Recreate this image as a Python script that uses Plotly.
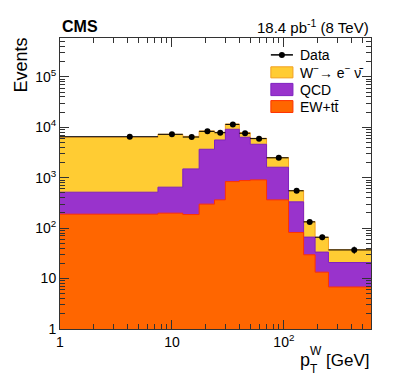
import numpy as np
import plotly.graph_objects as go

# bin edges of W pT [GeV]
edges = [0, 7.5, 12.5, 17.5, 24, 30, 40, 50, 70, 110, 150, 190, 250, 600]
# stacked contributions (events per bin)
ew_ttbar = [189, 198, 186, 299, 363, 837, 877, 904, 363, 82, 29.6, 13.4, 6.8]
qcd = [327, 451, 1308, 3366, 5237, 8293, 5463, 3696, 1251, 250, 36.8, 20.1, 14.0]
w_enu = [5800, 6600, 5100, 4800, 2350, 2470, 1480, 1450, 890, 224, 68.6, 32.5, 16.4]
# data points
data_x = [4.2, 10, 15, 20.75, 27, 35, 45, 60, 90, 130, 170, 220, 425]
data_y = [6500, 7250, 6400, 8300, 7800, 11400, 7600, 5950, 2480, 550, 133, 66, 37]

names = ["W<sup>−</sup>→ e<sup>−</sup> ν̄", "QCD", "EW+tt̄"]
fills = ["#FFCC33", "#9933CC", "#FF6600"]
lines = ["#F2A020", "#7E22C0", "#FF3300"]

x_lo = 1  # lower edge of the x axis (log)

def steps(vals):
    xs = [max(e, x_lo) for e in edges]
    ys = list(vals) + [vals[-1]]
    return xs, ys

lvl_ew = np.array(ew_ttbar)
lvl_qcd = lvl_ew + np.array(qcd)
lvl_w = lvl_qcd + np.array(w_enu)

fig = go.Figure()
for lvl, nm, fc, lc in zip([lvl_w, lvl_qcd, lvl_ew], names, fills, lines):
    xs, ys = steps(lvl)
    fig.add_trace(go.Scatter(x=xs, y=ys, mode="lines", line=dict(shape="hv", color=lc, width=1),
                             fill="tozeroy", fillcolor=fc, name=nm, showlegend=False))

lo = [max(e, x_lo) for e in edges[:-1]]
hi = edges[1:]
fig.add_trace(go.Scatter(
    x=data_x, y=data_y, mode="markers", name="Data", showlegend=False,
    marker=dict(color="black", size=6),
    error_x=dict(type="data", symmetric=False,
                 array=[h - c for h, c in zip(hi, data_x)],
                 arrayminus=[c - l for l, c in zip(lo, data_x)],
                 color="black", thickness=1, width=0),
    error_y=dict(type="data", array=list(np.sqrt(data_y)), color="black", thickness=1, width=0),
))

def minor_vals(lo_exp, hi_exp):
    out = []
    for e in range(lo_exp, hi_exp):
        for m in range(2, 10):
            out.append(m * 10 ** e)
    return out

font = "Liberation Sans, Arial, sans-serif"

# page body has an 8px margin, so the figure is shrunk by that amount
fig.update_layout(
    width=391, height=379,
    margin=dict(l=52, r=28, t=30, b=58),
    paper_bgcolor="white", plot_bgcolor="white",
    font=dict(family=font, size=14, color="black"),
    showlegend=False,
    xaxis=dict(type="log", range=[0, np.log10(600)], showline=True, linecolor="#333", linewidth=1,
               mirror="ticks", ticks="inside", ticklen=9, tickcolor="#333",
               tickvals=[1, 10, 100], ticktext=["1", "10", "10<sup>2</sup>"],
               showgrid=False, zeroline=False,
               minor=dict(tickvals=minor_vals(0, 3), ticks="inside", ticklen=5, tickcolor="#333", showgrid=False)),
    yaxis=dict(type="log", range=[0, 5.77], showline=True, linecolor="#333", linewidth=1,
               mirror="ticks", ticks="inside", ticklen=9, tickcolor="#333",
               tickvals=[1, 10, 100, 1e3, 1e4, 1e5],
               ticktext=["1", "10", "10<sup>2</sup>", "10<sup>3</sup>", "10<sup>4</sup>", "10<sup>5</sup>"],
               showgrid=False, zeroline=False,
               minor=dict(tickvals=minor_vals(0, 6), ticks="inside", ticklen=5, tickcolor="#333", showgrid=False)),
)

# legend drawn by hand (ROOT style boxes)
lx0, lx1, ltxt = 0.678, 0.749, 0.765
fig.add_shape(type="line", xref="paper", yref="paper", x0=lx0, x1=lx1, y0=0.942, y1=0.942,
              line=dict(color="black", width=1.5))
fig.add_shape(type="circle", xref="paper", yref="paper", xsizemode="pixel", ysizemode="pixel",
              xanchor=(lx0 + lx1) / 2, yanchor=0.942, x0=-3, x1=3, y0=-3, y1=3,
              fillcolor="black", line=dict(color="black", width=0))
fig.add_annotation(text="Data", xref="paper", yref="paper", x=ltxt, y=0.942, xanchor="left",
                   yanchor="middle", showarrow=False, font=dict(size=14))
box_y = [(0.901, 0.863), (0.844, 0.802), (0.785, 0.744)]
for (yt, yb), nm, fc, lc in zip(box_y, names, fills, lines):
    fig.add_shape(type="rect", xref="paper", yref="paper", x0=lx0, x1=lx1, y0=yb, y1=yt,
                  fillcolor=fc, line=dict(color=lc, width=1))
    fig.add_annotation(text=nm, xref="paper", yref="paper", x=ltxt, y=(yt + yb) / 2, xanchor="left",
                       yanchor="middle", showarrow=False, font=dict(size=14))

fig.add_annotation(text="<b>CMS</b>", xref="paper", yref="paper", x=0, y=1, xanchor="left", yanchor="bottom",
                   yshift=1, showarrow=False, font=dict(size=16))
fig.add_annotation(text="18.4 pb<sup>-1</sup> (8 TeV)", xref="paper", yref="paper", x=1, y=1,
                   xanchor="right", yanchor="bottom", showarrow=False, font=dict(size=15))
# x axis title p_T^W with stacked sub/superscript
fig.add_annotation(text="[GeV]", xref="paper", yref="paper", x=1, y=-0.108,
                   xanchor="right", yanchor="middle", showarrow=False, font=dict(size=17))
fig.add_annotation(text="p", xref="paper", yref="paper", x=0.764, y=-0.108,
                   xanchor="left", yanchor="middle", showarrow=False, font=dict(size=18))
fig.add_annotation(text="W", xref="paper", yref="paper", x=0.797, y=-0.074,
                   xanchor="left", yanchor="middle", showarrow=False, font=dict(size=12))
fig.add_annotation(text="T", xref="paper", yref="paper", x=0.797, y=-0.136,
                   xanchor="left", yanchor="middle", showarrow=False, font=dict(size=12))
fig.add_annotation(text="Events", xref="paper", yref="paper", x=0, y=1, textangle=-90,
                   xanchor="right", yanchor="top", xshift=-28, yshift=2, showarrow=False, font=dict(size=18))

fig.write_html("out.html")
